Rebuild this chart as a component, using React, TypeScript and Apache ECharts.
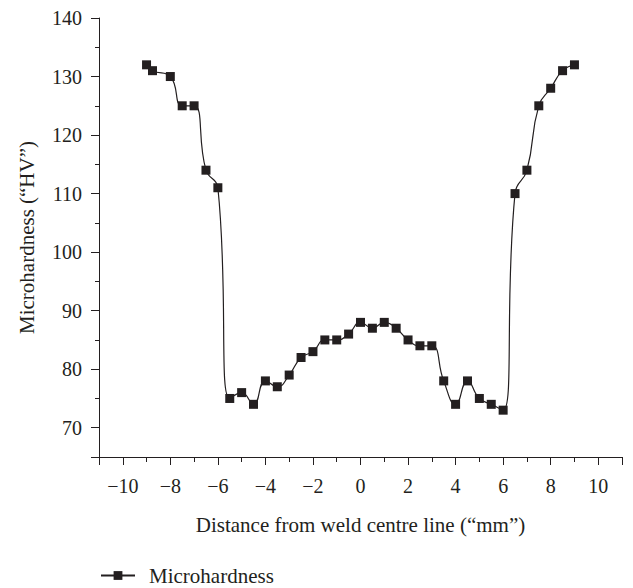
import React, { useEffect, useRef } from "react";
import * as echarts from "echarts";

const distances = [-9, -8.75, -8, -7.5, -7, -6.5, -6, -5.5, -5, -4.5, -4, -3.5, -3, -2.5, -2, -1.5, -1, -0.5, 0, 0.5, 1, 1.5, 2, 2.5, 3, 3.5, 4, 4.5, 5, 5.5, 6, 6.5, 7, 7.5, 8, 8.5, 9];
const hardness = [132, 131, 130, 125, 125, 114, 111, 75, 76, 74, 78, 77, 79, 82, 83, 85, 85, 86, 88, 87, 88, 87, 85, 84, 84, 78, 74, 78, 75, 74, 73, 110, 114, 125, 128, 131, 132];
const seriesName = "Microhardness";
const xAxisName = "Distance from weld centre line (\u201Cmm\u201D)";
const yAxisName = "Microhardness (\u201CHV\u201D)";
const xRange = [-11, 11];
const yRange = [65, 140];

const INK = "#231f20";
const FONT = "'Liberation Serif', 'DejaVu Serif', serif";

export default function App() {
  const ref = useRef<HTMLDivElement>(null);
  useEffect(() => {
    if (!ref.current) return;
    const chart = echarts.init(ref.current, null, { renderer: "svg" });
    const fmtNum = (v: number) => (v < 0 ? "\u2212" + Math.abs(v) : String(v));
    chart.setOption({
      animation: false,
      backgroundColor: "#ffffff",
      textStyle: { fontFamily: FONT, color: INK },
      grid: { left: 99, right: 11, top: 18, bottom: 131, containLabel: false },
      legend: {
        data: [seriesName],
        left: 100,
        top: 565,
        padding: 0,
        itemWidth: 34,
        itemHeight: 11,
        textStyle: { fontFamily: FONT, fontSize: 21, color: INK, padding: [0, 0, 0, 9] },
      },
      xAxis: {
        type: "value",
        min: xRange[0],
        max: xRange[1],
        splitNumber: 11,
        name: xAxisName,
        nameLocation: "middle",
        nameGap: 57,
        nameTextStyle: { fontFamily: FONT, fontSize: 21, color: INK },
        axisLine: { show: true, onZero: false, lineStyle: { color: INK, width: 1 } },
        axisTick: { show: true, length: 8, lineStyle: { color: INK, width: 1 } },
        minorTick: { show: true, splitNumber: 2, length: 5, lineStyle: { color: INK, width: 1 } },
        splitLine: { show: false },
        axisLabel: {
          margin: 19,
          fontFamily: FONT,
          fontSize: 20,
          color: INK,
          formatter: (v: number) => (Math.abs(v % 2) === 0 && Math.abs(v) <= 10 ? fmtNum(v) : ""),
        },
      },
      yAxis: {
        type: "value",
        min: yRange[0],
        max: yRange[1],
        splitNumber: 7,
        name: yAxisName,
        nameLocation: "middle",
        nameGap: 62,
        nameTextStyle: { fontFamily: FONT, fontSize: 21, color: INK },
        axisLine: { show: true, onZero: false, lineStyle: { color: INK, width: 1 } },
        axisTick: { show: true, length: 8, lineStyle: { color: INK, width: 1 } },
        minorTick: { show: true, splitNumber: 2, length: 4, lineStyle: { color: INK, width: 1 } },
        splitLine: { show: false },
        axisLabel: {
          margin: 17,
          fontFamily: FONT,
          fontSize: 20,
          color: INK,
          formatter: (v: number) => (v % 10 === 0 ? String(v) : ""),
        },
      },
      series: [
        {
          name: seriesName,
          type: "line",
          data: distances.map((d, i) => [d, hardness[i]]),
          smooth: 0.5,
          symbol: "rect",
          symbolSize: 9,
          showSymbol: true,
          lineStyle: { color: INK, width: 1.2 },
          itemStyle: { color: INK },
        },
      ],
    });
    return () => chart.dispose();
  }, []);
  return <div ref={ref} style={{ position: "fixed", left: 0, top: 0, width: 633, height: 588 }} />;
}
